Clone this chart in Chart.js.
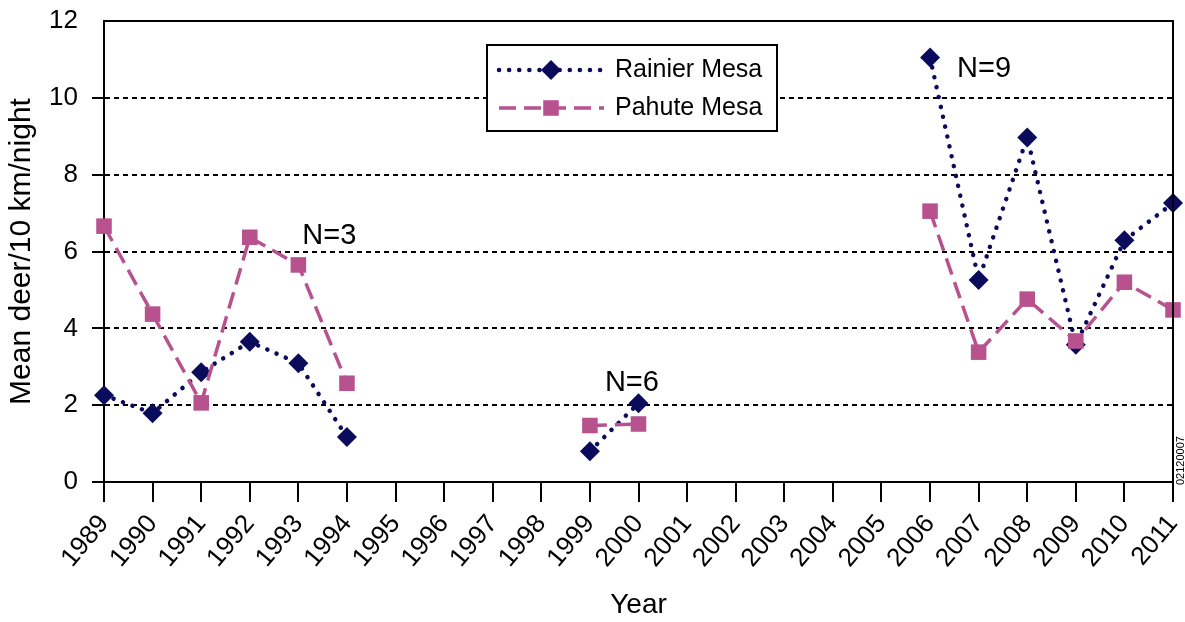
<!DOCTYPE html>
<html><head><meta charset="utf-8">
<script src="https://cdn.jsdelivr.net/npm/chart.js@4"></script>
<style>html,body{margin:0;padding:0;background:#fff;}#wrap{width:1185px;height:622px;position:relative}</style>
</head><body><div id="wrap"><canvas id="c"></canvas></div>
<script>
const years = ['1989','1990','1991','1992','1993','1994','1995','1996','1997','1998','1999','2000','2001','2002','2003','2004','2005','2006','2007','2008','2009','2010','2011'];
const rainierMesa = [2.26,1.79,2.86,3.65,3.09,1.17,null,null,null,null,0.8,2.05,null,null,null,null,null,11.05,5.26,8.97,3.57,6.29,7.26];
const pahuteMesa = [6.66,4.37,2.06,6.37,5.65,2.57,null,null,null,null,1.47,1.51,null,null,null,null,null,7.05,3.38,4.76,3.67,5.2,4.48];
const seriesNames = ['Rainier Mesa','Pahute Mesa'];
const yTickValues = [0,2,4,6,8,10,12];
const notes = [
  {text:'N=3', year:'1993', value:6.2, dx:4},
  {text:'N=6', year:'1999', value:2.38, dx:15},
  {text:'N=9', year:'2006', value:10.55, dx:27}
];
const FONT = "'Liberation Sans', Arial, sans-serif";
const NAVY = '#0b0b5c';
const PINK = '#b8528f';

const extras = {
  id:'extras',
  afterDraw(chart){
    const ctx = chart.ctx, a = chart.chartArea, xs = chart.scales.x, ys = chart.scales.y;
    ctx.save();
    ctx.strokeStyle = '#000'; ctx.lineWidth = 2;
    ctx.beginPath(); ctx.moveTo(a.left, a.top); ctx.lineTo(a.right, a.top); ctx.lineTo(a.right, a.bottom); ctx.stroke();
    ctx.fillStyle = '#000'; ctx.font = '29px ' + FONT; ctx.textAlign = 'left'; ctx.textBaseline = 'alphabetic';
    notes.forEach(n => {
      ctx.fillText(n.text, xs.getPixelForValue(years.indexOf(n.year)) + n.dx, ys.getPixelForValue(n.value));
    });
    const bx = 487, by = 45, bw = 290, bh = 86;
    ctx.fillStyle = '#fff'; ctx.fillRect(bx, by, bw, bh);
    ctx.strokeStyle = '#000'; ctx.lineWidth = 2; ctx.strokeRect(bx, by, bw, bh);
    const rows = [70, 108];
    chart.data.datasets.forEach((ds, i) => {
      const y = rows[i];
      ctx.save();
      ctx.strokeStyle = ds.borderColor; ctx.lineWidth = ds.borderWidth;
      ctx.setLineDash(ds.borderDash); ctx.lineCap = ds.borderCapStyle || 'butt';
      ctx.beginPath(); ctx.moveTo(499, y); ctx.lineTo(604, y); ctx.stroke();
      ctx.restore();
      ctx.fillStyle = ds.pointBackgroundColor;
      Chart.helpers.drawPoint(ctx, {pointStyle: ds.pointStyle, radius: ds.pointRadius, borderWidth: 0, rotation: 0}, 551, y);
      ctx.fillStyle = '#000'; ctx.font = '25px ' + FONT; ctx.textBaseline = 'middle'; ctx.textAlign = 'left';
      ctx.fillText(ds.label, 615, y);
    });
    ctx.save();
    ctx.translate(1181, 485); ctx.rotate(-Math.PI/2);
    ctx.fillStyle = '#000'; ctx.font = '11px ' + FONT; ctx.textAlign = 'left'; ctx.textBaseline = 'middle';
    ctx.fillText('02120007', 0, 0);
    ctx.restore();
    ctx.restore();
  }
};

new Chart(document.getElementById('c'), {
  type: 'line',
  data: {
    labels: years,
    datasets: [
      {label: seriesNames[0], data: rainierMesa, borderColor: NAVY, backgroundColor: NAVY,
       pointBackgroundColor: NAVY, pointBorderWidth: 0, borderWidth: 4.5, borderDash: [0.1, 10], borderCapStyle: 'round',
       pointStyle: 'rectRot', pointRadius: 10, pointHoverRadius: 10, spanGaps: false, tension: 0, order: 1},
      {label: seriesNames[1], data: pahuteMesa, borderColor: PINK, backgroundColor: PINK,
       pointBackgroundColor: PINK, pointBorderWidth: 0, borderWidth: 3.5, borderDash: [17, 8], borderCapStyle: 'butt',
       pointStyle: 'rect', pointRadius: 11, pointHoverRadius: 11, spanGaps: false, tension: 0, order: 0}
    ]
  },
  options: {
    responsive: true, maintainAspectRatio: false, animation: false,
    events: [],
    layout: {padding: {top: 21, right: 12, left: 0, bottom: 0}},
    plugins: {legend: {display: false}, tooltip: {enabled: false}},
    scales: {
      x: {
        type: 'category', offset: false,
        grid: {drawOnChartArea: false, drawTicks: true, tickLength: 20, tickColor: '#000', lineWidth: 2, tickWidth: 2},
        border: {display: true, color: '#000', width: 2},
        ticks: {autoSkip: false, maxRotation: 50, minRotation: 50, color: '#000', font: {family: FONT, size: 26}, padding: 7},
        title: {display: true, text: 'Year', color: '#000', font: {family: FONT, size: 28}, padding: {top: 0, bottom: 0}},
        afterFit(s){ s.height = 140; s.paddingRight = 12; s.paddingLeft = 0; s.paddingTop = 0; s.paddingBottom = 0; }
      },
      y: {
        min: 0, max: 12,
        afterBuildTicks(s){ s.ticks = yTickValues.map(v => ({value: v})); },
        grid: {
          color: c => (c.tick && (c.tick.value === 0 || c.tick.value === 12)) ? 'rgba(0,0,0,0)' : '#000',
          tickColor: c => (c.tick && c.tick.value === 12) ? 'rgba(0,0,0,0)' : '#000',
          lineWidth: 2, tickWidth: 2, tickLength: 12
        },
        border: {display: true, color: '#000', width: 2, dash: [5, 4]},
        ticks: {color: '#000', font: {family: FONT, size: 26}, padding: 14},
        title: {display: true, text: 'Mean deer/10 km/night', color: '#000', font: {family: FONT, size: 30}, padding: {top: 4, bottom: 0}},
        afterFit(s){ s.width = 104; s.paddingTop = 0; s.paddingBottom = 0; }
      }
    }
  },
  plugins: [extras]
});
</script></body></html>
